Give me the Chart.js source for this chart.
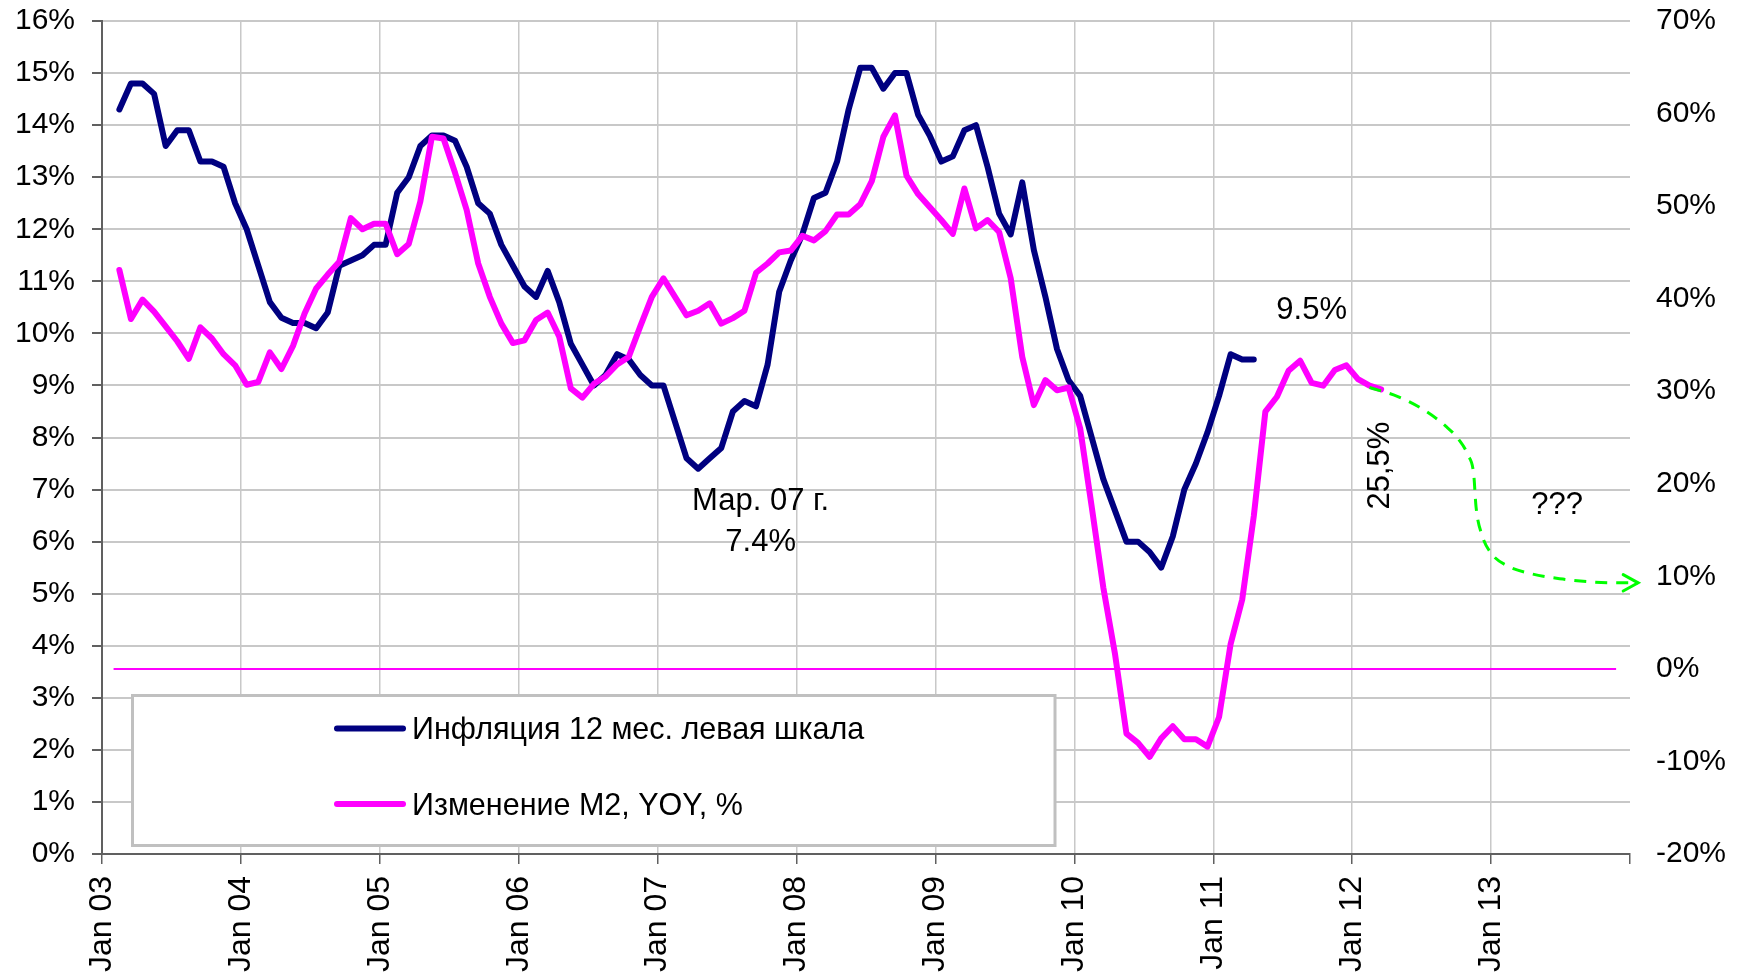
<!DOCTYPE html>
<html>
	<head>
		<meta charset="utf-8">
		<title>Инфляция и М2</title>
		<style>
			body { margin: 0; background: #fff; }
		</style>
	</head>
	<body>
		<canvas id="chart" width="1737" height="976"></canvas>

		<script src="https://cdn.jsdelivr.net/npm/chart.js"></script>
		<script>
			// year labels on the x axis (one per 12 months, the last tick has no label)
			var tickLabels = ['Jan 03', 'Jan 04', 'Jan 05', 'Jan 06', 'Jan 07', 'Jan 08', 'Jan 09', 'Jan 10', 'Jan 11', 'Jan 12', 'Jan 13'];

			var legendLabels = ['Инфляция 12 мес. левая шкала', 'Изменение M2, YOY, %'];

			// first point sits 1.5 months after the "Jan 03" tick, then one point per month
			var firstMonth = 1.5;

			// CPI, 12 months, % (left scale)
			var inflation = [
				14.3, 14.8, 14.8, 14.6, 13.6, 13.9, 13.9, 13.3, 13.3, 13.2, 12.5, 12.0,
				11.3, 10.6, 10.3, 10.2, 10.2, 10.1, 10.4, 11.3, 11.4, 11.5, 11.7, 11.7,
				12.7, 13.0, 13.6, 13.8, 13.8, 13.7, 13.2, 12.5, 12.3, 11.7, 11.3, 10.9,
				10.7, 11.2, 10.6, 9.8, 9.4, 9.0, 9.2, 9.6, 9.5, 9.2, 9.0, 9.0,
				8.3, 7.6, 7.4, 7.6, 7.8, 8.5, 8.7, 8.6, 9.4, 10.8, 11.4, 11.9,
				12.6, 12.7, 13.3, 14.3, 15.1, 15.1, 14.7, 15.0, 15.0, 14.2, 13.8, 13.3,
				13.4, 13.9, 14.0, 13.2, 12.3, 11.9, 12.9, 11.6, 10.7, 9.7, 9.1, 8.8,
				8.0, 7.2, 6.6, 6.0, 6.0, 5.8, 5.5, 6.1, 7.0, 7.5, 8.1, 8.8,
				9.6, 9.5, 9.5
			];

			// M2 change YOY, % (right scale)
			var m2 = [
				43.1, 37.8, 39.9, 38.6, 37.0, 35.4, 33.5, 36.9, 35.7, 34.0, 32.8, 30.7,
				31.0, 34.2, 32.4, 34.9, 38.4, 41.1, 42.6, 44.0, 48.7, 47.5, 48.1, 48.1,
				44.8, 45.9, 50.5, 57.5, 57.3, 53.6, 49.6, 43.8, 40.2, 37.3, 35.2, 35.5,
				37.7, 38.5, 35.9, 30.3, 29.3, 30.8, 31.6, 32.9, 33.7, 37.0, 40.2, 42.2,
				40.2, 38.2, 38.7, 39.5, 37.3, 37.9, 38.7, 42.8, 43.8, 45.0, 45.2, 46.8,
				46.3, 47.3, 49.1, 49.1, 50.2, 52.7, 57.5, 59.8, 53.3, 51.3, 49.9, 48.5,
				47.0, 51.9, 47.6, 48.5, 47.2, 42.2, 33.7, 28.5, 31.2, 30.1, 30.4, 26.0,
				17.5, 8.8, 1.7, -7.0, -8.0, -9.5, -7.5, -6.2, -7.6, -7.6, -8.4, -5.2,
				2.7, 7.5, 16.5, 27.8, 29.4, 32.2, 33.3, 30.9, 30.6, 32.3, 32.8, 31.3,
				30.6, 30.2
			];

			// zero reference line of the right scale (months from / to)
			var zeroLineMonths = [1, 130.8];

			// hand drawn forecast arrow (right scale)
			var forecastMonths = [109.5, 112.0, 114.3, 116.1, 117.2, 118.0, 118.5, 118.7, 119.2, 120.0, 121.3, 123.4, 126.2, 128.6, 131.0, 132.7];
			var forecastValues = [30.4, 29.4, 27.9, 26.2, 24.8, 23.1, 21.0, 17.5, 14.5, 12.5, 11.2, 10.3, 9.7, 9.4, 9.3, 9.3];

			// text notes placed with the left scale (month, value at baseline)
			var notes = [
				{ text: 'Мар. 07 г.', month: 56.9, value: 6.61 },
				{ text: '7.4%', month: 56.9, value: 5.82 },
				{ text: '9.5%', month: 104.5, value: 10.27 },
				{ text: '???', month: 125.7, value: 6.53 },
				{ text: '25,5%', month: 110.4, value: 7.46, vertical: true }
			];

			var fontFamily = "'Liberation Sans', Arial, sans-serif";

			function toPoints(values, start) {
				var pts = [];
				values.forEach(function(v, i) {
					pts.push({ x: start + i, y: v });
				});
				return pts;
			}

			function pairPoints(xs, ys) {
				return xs.map(function(x, i) { return { x: x, y: ys[i] }; });
			}

			// fixed axis sizes so the plot area lands where the original has it
			function fixSize(size) {
				return function(s) {
					if (s.isHorizontal()) s.height = size; else s.width = size;
					s.paddingTop = 0;
					s.paddingBottom = 0;
				};
			}

			// legend box + text notes + arrow head, drawn over the plot
			var extrasPlugin = {
				id: 'extras',
				afterDraw: function(chart) {
					var c = chart.ctx;
					var xs = chart.scales.x, ys = chart.scales.y;

					// arrow head on forecast line
					var meta = chart.getDatasetMeta(3);
					var pts = meta.data;
					var p1 = pts[pts.length - 2], p2 = pts[pts.length - 1];
					var ang = Math.atan2(p2.y - p1.y, p2.x - p1.x);
					c.save();
					c.strokeStyle = '#00ff00';
					c.lineWidth = 3;
					c.lineCap = 'round';
					c.beginPath();
					c.moveTo(p2.x - 17 * Math.cos(ang - 0.5), p2.y - 17 * Math.sin(ang - 0.5));
					c.lineTo(p2.x, p2.y);
					c.lineTo(p2.x - 17 * Math.cos(ang + 0.5), p2.y - 17 * Math.sin(ang + 0.5));
					c.stroke();
					c.restore();

					// notes
					c.save();
					c.fillStyle = '#000';
					c.font = '31px ' + fontFamily;
					notes.forEach(function(n) {
						var px = xs.getPixelForValue(n.month);
						var py = ys.getPixelForValue(n.value);
						c.save();
						c.translate(px, py);
						if (n.vertical) {
							c.rotate(-Math.PI / 2);
							c.textBaseline = 'middle';
						} else {
							c.textBaseline = 'alphabetic';
						}
						c.textAlign = 'center';
						c.fillText(n.text, 0, 0);
						c.restore();
					});
					c.restore();

					// legend
					c.save();
					c.fillStyle = '#fff';
					c.fillRect(132, 695, 923, 151);
					c.strokeStyle = '#c0c0c0';
					c.lineWidth = 3;
					c.strokeRect(132.5, 695.5, 922.5, 150);
					var rows = [
						{ color: chart.data.datasets[1].borderColor, label: legendLabels[0], y: 728.5 },
						{ color: chart.data.datasets[0].borderColor, label: legendLabels[1], y: 804 }
					];
					c.font = '30.5px ' + fontFamily;
					c.textAlign = 'left';
					c.textBaseline = 'alphabetic';
					rows.forEach(function(r) {
						c.strokeStyle = r.color;
						c.lineWidth = 6;
						c.lineCap = 'round';
						c.beginPath();
						c.moveTo(337, r.y);
						c.lineTo(403, r.y);
						c.stroke();
						c.fillStyle = '#000';
						c.fillText(r.label, 412, r.y + 10.5);
					});
					c.restore();
				}
			};

			var tickFont = { family: fontFamily, size: 30 };

			var chart = new Chart(document.getElementById('chart'), {
				type: 'line',
				data: {
					datasets: [{
						label: legendLabels[1],
						data: toPoints(m2, firstMonth),
						yAxisID: 'y1',
						borderColor: '#ff00ff',
						borderWidth: 6,
						borderJoinStyle: 'round',
						borderCapStyle: 'round',
						pointRadius: 0,
						order: 1
					}, {
						label: legendLabels[0],
						data: toPoints(inflation, firstMonth),
						yAxisID: 'y',
						borderColor: '#000080',
						borderWidth: 6,
						borderJoinStyle: 'round',
						borderCapStyle: 'round',
						pointRadius: 0,
						order: 2
					}, {
						label: 'zero',
						data: pairPoints(zeroLineMonths, [0, 0]),
						yAxisID: 'y1',
						borderColor: '#ff00ff',
						borderWidth: 2,
						pointRadius: 0,
						order: 3
					}, {
						label: 'forecast',
						data: pairPoints(forecastMonths, forecastValues),
						yAxisID: 'y1',
						borderColor: '#00ff00',
						borderWidth: 3,
						borderDash: [12, 9],
						cubicInterpolationMode: 'monotone',
						pointRadius: 0,
						clip: false,
						order: 0
					}]
				},
				options: {
					responsive: false,
					animation: false,
					devicePixelRatio: 1,
					layout: { padding: { top: 21, left: 0, right: 0, bottom: 0 } },
					plugins: {
						legend: { display: false },
						tooltip: { enabled: false }
					},
					scales: {
						x: {
							type: 'linear',
							min: 0,
							max: 132,
							ticks: {
								stepSize: 12,
								autoSkip: false,
								minRotation: 90,
								maxRotation: 90,
								padding: 12,
								color: '#000',
								font: { family: fontFamily, size: 32 },
								callback: function(v) { return tickLabels[v / 12] || ''; }
							},
							grid: {
								color: function(ctx) {
									return ctx.tick && ctx.tick.value === 132 ? 'rgba(0,0,0,0)' : '#c8c8c8';
								},
								lineWidth: 1.5,
								tickColor: '#606060',
								tickLength: 10
							},
							border: { color: '#606060', width: 2 },
							afterFit: fixSize(122)
						},
						y: {
							position: 'left',
							min: 0,
							max: 16,
							ticks: {
								stepSize: 1,
								padding: 17,
								color: '#000',
								font: tickFont,
								callback: function(v) { return v + '%'; }
							},
							grid: {
								color: '#c8c8c8',
								lineWidth: 2,
								tickColor: '#606060',
								tickLength: 10
							},
							border: { color: '#606060', width: 2 },
							afterFit: fixSize(102)
						},
						y1: {
							position: 'right',
							min: -20,
							max: 70,
							ticks: {
								stepSize: 10,
								padding: 26,
								color: '#000',
								font: tickFont,
								callback: function(v) { return v + '%'; }
							},
							grid: { display: false, drawTicks: false },
							border: { display: false },
							afterFit: fixSize(107)
						}
					}
				},
				plugins: [extrasPlugin]
			});
		</script>
	</body>
</html>
